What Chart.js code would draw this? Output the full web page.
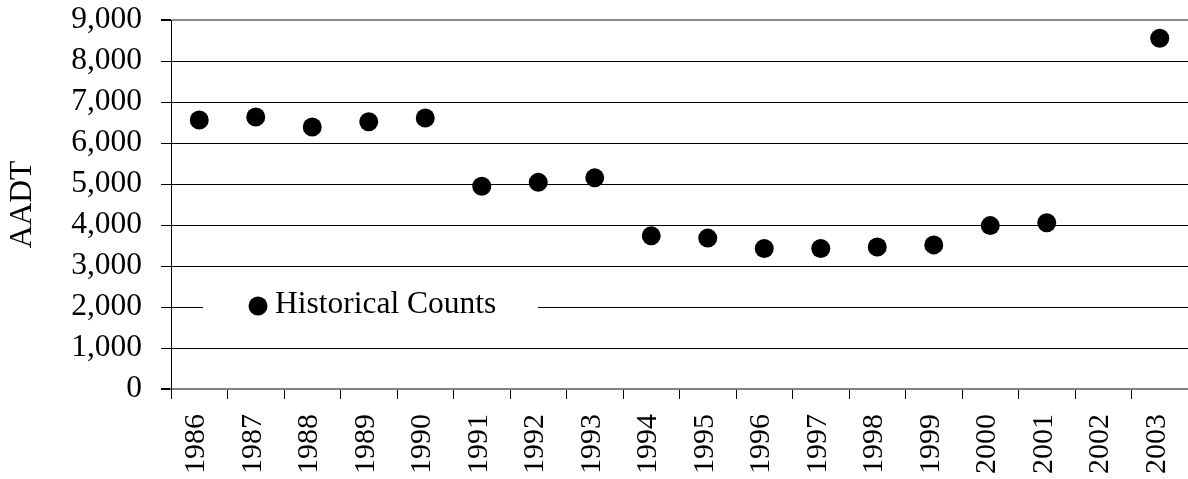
<!DOCTYPE html>
<html><head><meta charset="utf-8">
<script src="https://cdn.jsdelivr.net/npm/chart.js@4/dist/chart.umd.min.js"></script>
<style>html,body{margin:0;padding:0;background:#fff;}#wrap{width:1188px;height:479px;position:relative;}</style>
</head><body><div id="wrap"><canvas id="c" width="1188" height="479"></canvas></div>
<script>
const years = ['1986','1987','1988','1989','1990','1991','1992','1993','1994','1995','1996','1997','1998','1999','2000','2001','2002','2003'];
const aadt = [6560,6635,6390,6520,6610,4945,5040,5150,3735,3680,3425,3425,3465,3515,3985,4055,null,8555];
const yTicks = [0,1000,2000,3000,4000,5000,6000,7000,8000,9000];
const seriesName = 'Historical Counts';
const yTitle = 'AADT';

const FONT = "'Liberation Serif', 'Times New Roman', serif";
const FS = 31.5;
const FSX = 30;

const legendBox = {
  id: 'legendBox',
  afterDatasetsDraw(chart) {
    const a = chart.chartArea, ctx = chart.ctx;
    const ds = chart.data.datasets[0];
    const cy = a.top + 286;
    ctx.save();
    ctx.fillStyle = '#fff';
    ctx.fillRect(a.left + 32, cy - 16, 335, 32);
    ctx.fillStyle = ds.backgroundColor;
    ctx.beginPath();
    ctx.arc(a.left + 87, cy, 9.5, 0, Math.PI * 2);
    ctx.fill();
    ctx.fillStyle = '#000';
    ctx.font = FS + 'px ' + FONT;
    ctx.textBaseline = 'middle';
    ctx.textAlign = 'left';
    ctx.fillText(ds.label, a.left + 104, cy - 1);
    ctx.restore();
  }
};

new Chart(document.getElementById('c'), {
  type: 'line',
  data: {
    labels: years,
    datasets: [{
      label: seriesName,
      data: aadt,
      showLine: false,
      backgroundColor: '#000',
      borderColor: '#000',
      borderWidth: 0,
      pointRadius: 9.5,
      pointHoverRadius: 9.5,
      pointStyle: 'circle'
    }]
  },
  plugins: [legendBox],
  options: {
    responsive: false,
    devicePixelRatio: 1,
    animation: false,
    layout: { autoPadding: false, padding: { top: 20, right: 0, left: 0, bottom: 0 } },
    plugins: { legend: { display: false }, tooltip: { enabled: false } },
    scales: {
      x: {
        type: 'category',
        offset: true,
        grid: { display: true, offset: true, drawOnChartArea: false, drawTicks: true, tickLength: 10, color: '#000', lineWidth: 1 },
        border: { display: true, color: '#808080', width: 2 },
        ticks: { autoSkip: false, minRotation: 90, maxRotation: 90, padding: 15, labelOffset: -3, color: '#000', font: { family: FONT, size: FSX } },
        afterFit(s) { s.height = 90; s.paddingLeft = 0; s.paddingRight = 0; }
      },
      y: {
        min: 0, max: 9000,
        afterBuildTicks(s) { s.ticks = yTicks.map(v => ({ value: v })); },
        grid: {
          color: c => (c.tick && (c.tick.value === 9000 || c.tick.value === 0)) ? '#8a8a8a' : '#000',
          lineWidth: c => (c.tick && (c.tick.value === 9000 || c.tick.value === 0)) ? 2 : 1,
          tickColor: '#000',
          tickLength: 10,
          drawTicks: true
        },
        border: { display: true, color: '#000', width: 1 },
        ticks: {
          padding: 19, color: '#000', font: { family: FONT, size: FS },
          callback: v => Number(v).toLocaleString('en-US')
        },
        title: { display: true, text: yTitle, color: '#000', font: { family: FONT, size: FS }, padding: { top: 4, bottom: 0 } },
        afterFit(s) { s.width = 171; s.paddingTop = 0; s.paddingBottom = 0; }
      }
    }
  }
});
</script>
</body></html>
